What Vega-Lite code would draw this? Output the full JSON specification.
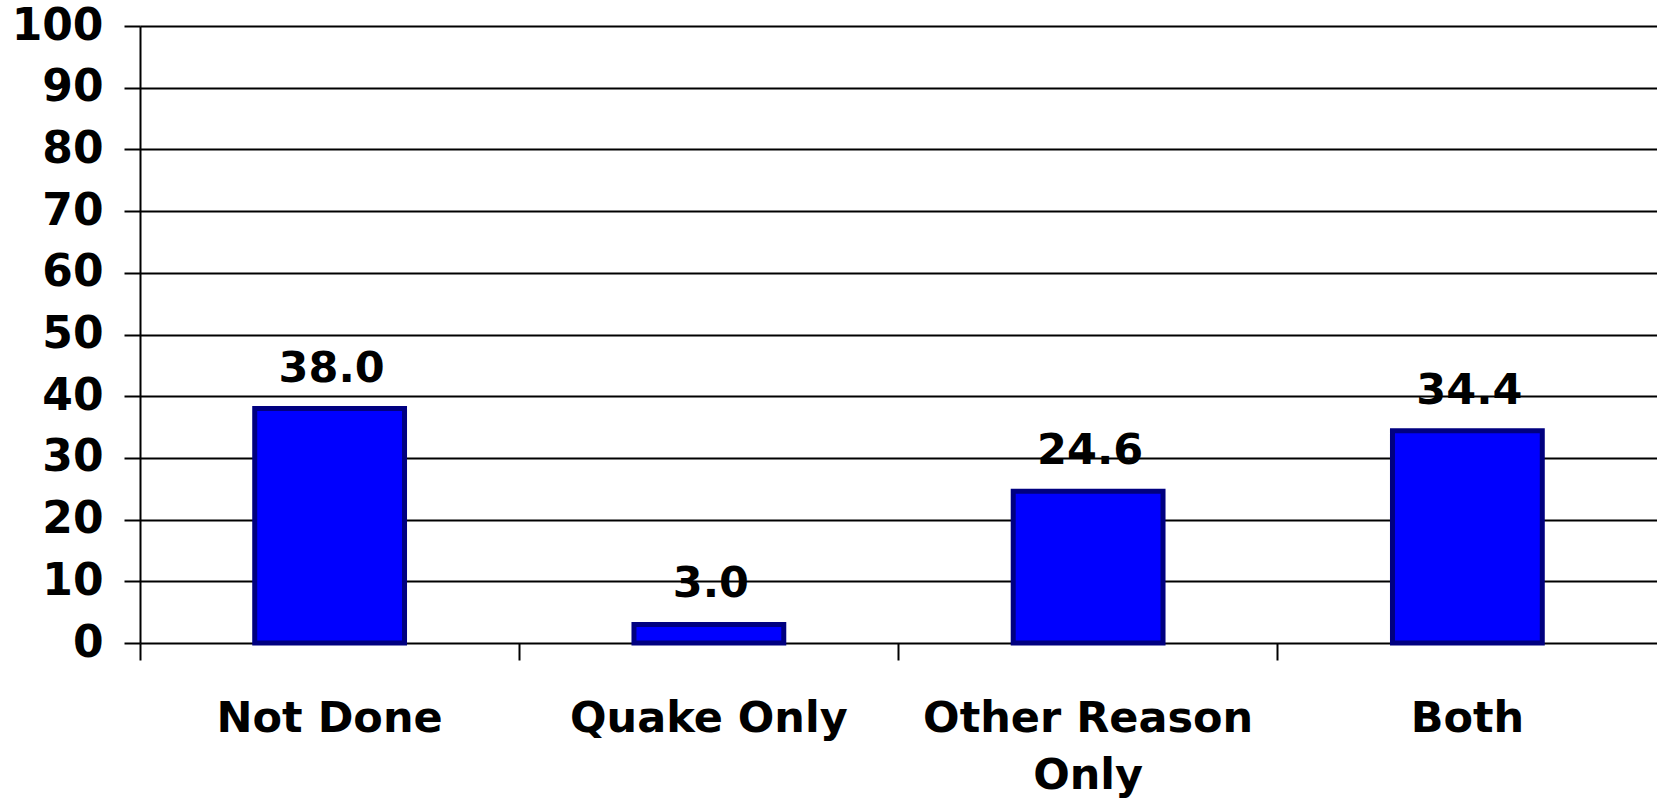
{
  "$schema": "https://vega.github.io/schema/vega-lite/v6.json",
  "width": 1517,
  "height": 617,
  "autosize": {"type": "none"},
  "padding": {"left": 140, "top": 26, "right": 0, "bottom": 159},
  "background": "white",
  "data": {
    "values": [
      {"category": "Not Done", "value": 38.0},
      {"category": "Quake Only", "value": 3.0},
      {"category": "Other Reason Only", "value": 24.6},
      {"category": "Both", "value": 34.4}
    ]
  },
  "config": {
    "view": {"stroke": null},
    "font": "DejaVu Sans",
    "axis": {"labelFont": "DejaVu Sans", "labelFontWeight": "bold", "labelFontSize": 43, "labelColor": "black", "labelLimit": 0}
  },
  "encoding": {
    "x": {
      "field": "category",
      "type": "nominal",
      "sort": null,
      "scale": {"paddingInner": 0, "paddingOuter": 0},
      "axis": {
        "title": null,
        "domain": false,
        "bandPosition": 0,
        "ticks": true,
        "tickSize": 17,
        "tickColor": "black",
        "tickWidth": 2,
        "labelAngle": 0,
        "labelBaseline": "alphabetic",
        "labelPadding": 71,
        "labelLineHeight": 57,
        "labelLimit": 0,
        "labelExpr": "datum.label == 'Other Reason Only' ? ['Other Reason', 'Only'] : datum.label"
      }
    }
  },
  "layer": [
    {
      "mark": {"type": "bar", "width": {"band": 0.395}, "fill": "#0000FF", "stroke": "#000080", "strokeWidth": 5},
      "encoding": {
        "y": {
          "field": "value",
          "type": "quantitative",
          "scale": {"domain": [0, 100], "nice": false},
          "axis": {
            "title": null,
            "values": [0, 10, 20, 30, 40, 50, 60, 70, 80, 90, 100],
            "grid": true,
            "gridColor": "black",
            "gridWidth": 2,
            "gridOpacity": 1,
            "domain": true,
            "domainColor": "black",
            "domainWidth": 2,
            "tickSize": 16,
            "tickColor": "black",
            "tickWidth": 2,
            "labelPadding": 21,
            "labelBaseline": "middle",
            "labelFontSize": 44
          }
        }
      }
    },
    {
      "mark": {"type": "text", "baseline": "alphabetic", "dx": 2, "dy": -27, "fontSize": 43, "fontWeight": "bold", "font": "DejaVu Sans", "color": "black"},
      "encoding": {
        "y": {"field": "value", "type": "quantitative"},
        "text": {"field": "value", "type": "quantitative", "format": ".1f"}
      }
    }
  ]
}
